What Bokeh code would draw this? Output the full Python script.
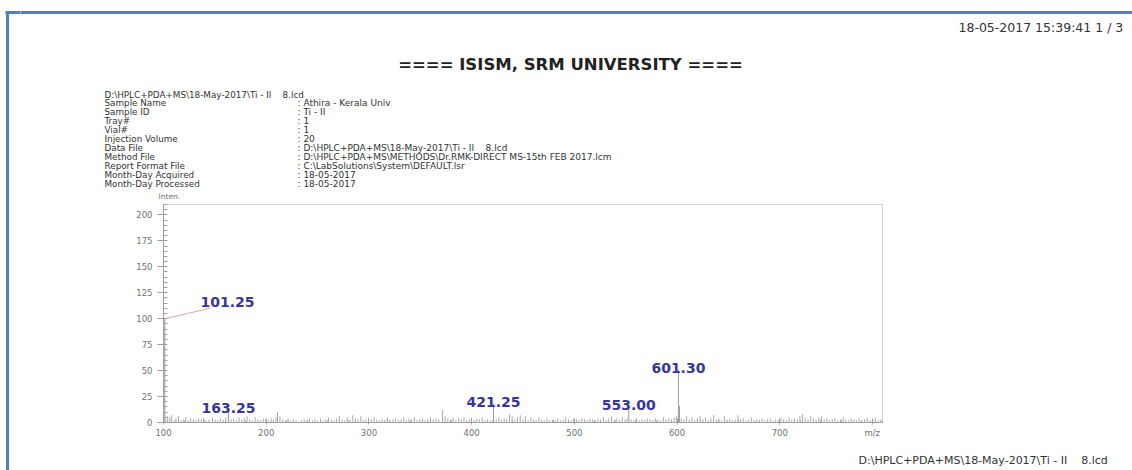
from bokeh.plotting import figure
from bokeh.models import Range1d, SingleIntervalTicker, FixedTicker, ColumnDataSource
from bokeh.layouts import column, row
from bokeh.embed import file_html
from bokeh.resources import INLINE
from bokeh.core.properties import value

# ---------------- data ----------------
major_mz = [101.25, 163.25, 421.25, 553.00, 601.30, 602.30]
major_int = [100, 12, 18, 15, 51, 16]

peak_labels = ["101.25", "163.25", "421.25", "553.00", "601.30"]
peak_label_mz = [101.25, 163.25, 421.25, 553.00, 601.30]
peak_label_int = [100, 12, 18, 15, 51]

minor_mz = [
    102.3, 104.1, 106.2, 108.0, 110.4, 112.2, 114.6, 116.9, 119.3, 121.7, 124.0, 126.4, 129.1,
    131.5, 134.2, 136.8, 139.0, 141.6, 144.3, 147.7, 150.2, 152.8, 155.4, 158.1, 160.6, 165.9,
    168.3, 171.0, 173.5, 176.2, 178.7, 181.3, 183.9, 186.4, 189.2, 191.8, 194.3, 197.0, 199.5,
    202.3, 204.8, 207.1, 209.6, 211.0, 213.4, 216.2, 218.9, 221.3, 224.0, 226.7, 229.1, 231.8,
    234.4, 237.0, 239.6, 242.3, 245.1, 247.6, 250.2, 252.9, 255.5, 258.0, 260.7, 263.3, 266.1,
    268.6, 271.2, 273.9, 276.5, 279.0, 281.7, 284.3, 287.0, 289.4, 292.1, 294.8, 297.2, 299.7,
    302.4, 305.0, 307.6, 310.2, 312.9, 315.5, 318.1, 320.7, 323.4, 326.0, 328.6, 331.3, 333.9,
    336.4, 339.0, 341.7, 344.2, 346.8, 349.5, 352.1, 354.7, 357.4, 360.0, 362.6, 365.2, 367.9,
    371.7, 374.2, 376.8, 379.4, 382.0, 384.6, 387.3, 389.9, 392.5, 395.1, 397.8, 399.8,
    402.5, 405.1, 407.6, 410.3, 412.8, 415.4, 418.1, 423.9, 426.5, 429.0, 431.7, 434.2, 436.9,
    439.4, 442.1, 444.6, 447.3, 449.9, 452.4, 455.0, 457.7, 460.3, 462.8, 465.5, 468.1, 470.7,
    473.3, 475.9, 478.6, 481.2, 483.8, 486.4, 489.0, 491.6, 494.3, 496.9, 499.4,
    502.0, 504.6, 507.3, 509.9, 512.5, 515.1, 517.8, 520.4, 523.0, 525.6, 528.3, 530.9, 533.5,
    536.1, 538.8, 541.4, 544.0, 546.6, 549.3, 551.4, 555.2, 557.8, 560.5, 563.1, 565.7, 568.3,
    571.0, 573.6, 576.2, 578.8, 581.5, 584.1, 586.7, 589.3, 592.0, 594.6, 597.2, 599.5,
    604.1, 606.7, 609.3, 612.0, 614.6, 617.2, 619.8, 622.5, 625.1, 627.7, 630.3, 633.0, 635.6,
    638.2, 640.8, 643.5, 646.1, 648.7, 651.3, 654.0, 656.6, 659.2, 661.8, 664.5, 667.1, 669.7,
    672.3, 675.0, 677.6, 680.2, 682.8, 685.5, 688.1, 690.7, 693.3, 696.0, 698.6,
    701.2, 703.8, 706.5, 709.1, 711.7, 714.3, 717.0, 719.6, 722.2, 724.8, 727.5, 730.1, 732.7,
    735.3, 738.0, 740.6, 743.2, 745.8, 748.5, 751.1, 753.7, 756.3, 759.0, 761.6, 764.2, 766.8,
    769.5, 772.1, 774.7, 777.3, 780.0, 782.6, 785.2, 787.8, 790.5, 793.1, 795.7, 798.3,
]
minor_int = [
    3, 6, 5, 7, 2, 4, 6, 2, 3, 5, 2, 4, 3,
    2, 4, 3, 5, 2, 3, 5, 3, 2, 4, 3, 5, 3,
    4, 2, 5, 3, 4, 6, 3, 2, 5, 3, 2, 4, 3,
    2, 4, 3, 5, 10, 6, 3, 2, 4, 2, 3, 2, 1,
    2, 3, 2, 4, 2, 3, 2, 4, 2, 3, 5, 3, 2,
    4, 6, 3, 2, 5, 3, 7, 4, 3, 6, 2, 3, 4,
    3, 5, 3, 2, 4, 3, 5, 2, 3, 4, 2, 3, 5,
    2, 4, 3, 5, 2, 3, 4, 2, 3, 5, 3, 4, 3,
    12, 6, 4, 3, 5, 2, 4, 3, 5, 2, 3, 4,
    2, 4, 3, 5, 2, 3, 2, 3, 5, 3, 4, 3, 8,
    6, 3, 5, 7, 3, 6, 2, 5, 3, 2, 5, 3, 2,
    4, 2, 3, 2, 4, 2, 3, 5, 3, 2, 4,
    3, 2, 4, 3, 2, 4, 3, 2, 4, 3, 5, 2, 4,
    6, 3, 4, 2, 5, 3, 4, 3, 2, 4, 2, 3, 2,
    4, 3, 2, 4, 3, 2, 5, 3, 4, 3, 5, 6,
    4, 3, 6, 3, 5, 2, 4, 6, 3, 5, 2, 4, 7,
    3, 4, 2, 6, 3, 4, 2, 3, 7, 3, 4, 2, 3,
    5, 2, 3, 2, 4, 2, 3, 4, 2, 3, 2,
    4, 3, 2, 5, 3, 4, 3, 6, 8, 4, 3, 6, 4,
    3, 5, 6, 3, 4, 2, 3, 4, 2, 3, 5, 3, 2,
    4, 3, 2, 4, 2, 3, 4, 2, 3, 4, 2, 3,
]

x_tick_values = [100, 200, 300, 400, 500, 600, 700, 790]
x_tick_texts = ["100", "200", "300", "400", "500", "600", "700", "m/z"]
y_tick_step = 25

timestamp = "18-05-2017 15:39:41 1 / 3"
title_text = "==== ISISM, SRM UNIVERSITY ===="
file_line = "D:\\HPLC+PDA+MS\\18-May-2017\\Ti - II\u00a0\u00a0\u00a0\u00a08.lcd"
info_fields = ["Sample Name", "Sample ID", "Tray#", "Vial#", "Injection Volume", "Data File",
               "Method File", "Report Format File", "Month-Day Acquired", "Month-Day Processed"]
info_values = [": Athira - Kerala Univ", ": Ti - II", ": 1", ": 1", ": 20",
               ": D:\\HPLC+PDA+MS\\18-May-2017\\Ti - II\u00a0\u00a0\u00a0\u00a08.lcd",
               ": D:\\HPLC+PDA+MS\\METHODS\\Dr.RMK-DIRECT MS-15th FEB 2017.lcm",
               ": C:\\LabSolutions\\System\\DEFAULT.lsr", ": 18-05-2017", ": 18-05-2017"]

# ---------------- styles ----------------
BLUE = "#4f7fc0"
TXT = "#333333"
FONT = value("DejaVu Sans")
W, H = 1132, 470
STRIP_W = 20
RW = W - STRIP_W
TOP_H, MID_H = 200, 250
BOT_H = H - TOP_H - MID_H


def page_fig(w, h, x0, y0):
    f = figure(width=w, height=h, output_backend="svg", toolbar_location=None,
               x_range=Range1d(x0, x0 + w), y_range=Range1d(y0 + h, y0),
               x_axis_location=None, y_axis_location=None, min_border=0,
               frame_align=False)
    f.grid.visible = False
    f.outline_line_color = None
    f.background_fill_color = "white"
    f.border_fill_color = "white"
    return f


# ---------------- left strip with page border ----------------
strip = page_fig(STRIP_W, H, 0, 0)
strip.segment(x0=[7, 5], y0=[11, 12], x1=[7, STRIP_W + 10], y1=[H + 10, 12],
              line_color=BLUE, line_width=3)

# ---------------- header (page texts) ----------------
top = page_fig(RW, TOP_H, STRIP_W, 0)
top.segment(x0=[STRIP_W - 10], y0=[12], x1=[W + 10], y1=[12], line_color=BLUE, line_width=3)
top.text(x=[958], y=[27], text=[timestamp], text_align="left", text_baseline="middle",
         text_font=FONT, text_font_size="12.5px", text_color=TXT)
top.text(x=[570], y=[64], text=[title_text], text_align="center", text_baseline="middle",
         text_font=FONT, text_font_style="bold", text_font_size="16.5px", text_color="#222222")
line_y = [94 + 8.9 * i for i in range(len(info_fields) + 1)]
top.text(x=[104] * len(line_y), y=line_y, text=[file_line] + info_fields, text_align="left",
         text_baseline="middle", text_font=FONT, text_font_size="8.8px", text_color=TXT)
top.text(x=[297] * len(info_values), y=line_y[1:], text=info_values, text_align="left",
         text_baseline="middle", text_font=FONT, text_font_size="9px", text_color=TXT)
top.text(x=[158], y=[200], text=["Inten."], text_align="left", text_baseline="bottom",
         text_font=FONT, text_font_size="7.5px", text_color="#707070")

# ---------------- spectrum ----------------
p = figure(width=RW, height=MID_H, output_backend="svg", toolbar_location=None,
           x_range=Range1d(100, 800), y_range=Range1d(0, 210), frame_align=False,
           min_border_left=163 - STRIP_W, min_border_right=W - 882, min_border_top=204 - TOP_H,
           min_border_bottom=TOP_H + MID_H - 422)
p.background_fill_color = "white"
p.border_fill_color = "white"
p.grid.visible = False
p.outline_line_color = "#cfcfcf"

axis_col = "#a0a0a0"
lab_col = "#707070"
p.xaxis.ticker = FixedTicker(ticks=x_tick_values,
                             minor_ticks=[100 + 20 * k for k in range(36)])
p.xaxis.major_label_overrides = dict(zip(x_tick_values, x_tick_texts))
p.yaxis.ticker = SingleIntervalTicker(interval=y_tick_step, num_minor_ticks=5)
for ax in (p.xaxis[0], p.yaxis[0]):
    ax.axis_line_color = axis_col
    ax.major_tick_line_color = axis_col
    ax.minor_tick_line_color = axis_col
    ax.major_label_text_color = lab_col
    ax.major_label_text_font = "DejaVu Sans"
    ax.major_label_text_font_size = "8.5px"
p.yaxis.major_tick_out = 6
p.yaxis.major_tick_in = 0
p.yaxis.minor_tick_in = 4
p.yaxis.minor_tick_out = 0
p.yaxis.major_label_standoff = 5
p.xaxis.major_tick_in = 4
p.xaxis.major_tick_out = 2
p.xaxis.minor_tick_in = 2
p.xaxis.minor_tick_out = 0
p.xaxis.major_label_standoff = 3

src_minor = ColumnDataSource(dict(x=minor_mz, y=minor_int))
p.segment(x0="x", y0=0, x1="x", y1="y", source=src_minor, line_color="#a8a8a8", line_width=1)
src_major = ColumnDataSource(dict(x=major_mz, y=major_int))
p.segment(x0="x", y0=0, x1="x", y1="y", source=src_major, line_color="#9a9a9a", line_width=1)

# peak labels (first one is pulled aside with a leader line)
shift_x = [61, 0, 0, 0, 0]
shift_y = [14.5, 0, 0, 0, 0]
lx = [m + dx for m, dx in zip(peak_label_mz, shift_x)]
ly = [v + dy for v, dy in zip(peak_label_int, shift_y)]
p.segment(x0=[peak_label_mz[0]], y0=[peak_label_int[0]], x1=[lx[0] - 17], y1=[ly[0] - 4.5],
          line_color="#e8a2a2", line_width=1)
p.text(x=lx, y=ly, text=peak_labels, text_align="center", text_baseline="middle",
       text_font=FONT, text_font_style="bold", text_font_size="14px",
       text_color="#35359b", y_offset=-2)

# ---------------- footer ----------------
bot = page_fig(RW, BOT_H, STRIP_W, TOP_H + MID_H)
bot.text(x=[858], y=[TOP_H + MID_H + 10], text=[file_line], text_align="left",
         text_baseline="middle", text_font=FONT, text_font_size="11px", text_color=TXT)

layout = row(strip, column(top, p, bot))
open("out.html", "w").write(file_html(layout, INLINE))
